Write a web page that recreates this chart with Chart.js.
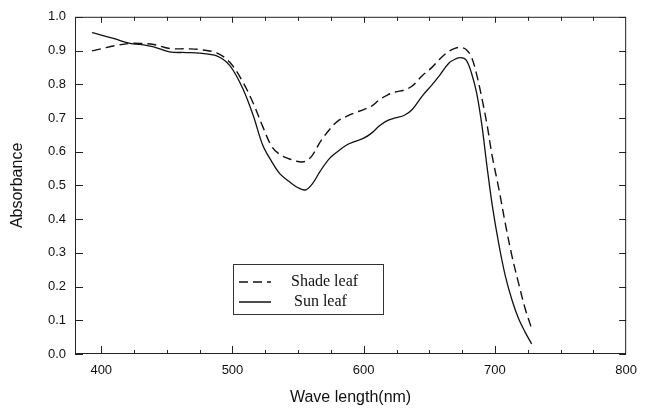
<!DOCTYPE html>
<html>
<head>
<meta charset="utf-8">
<script src="https://cdn.jsdelivr.net/npm/chart.js@4"></script>
<style>
  html, body { margin: 0; padding: 0; background: #fff; }
  #wrap { width: 646px; height: 409px; }
</style>
</head>
<body>
<div id="wrap"><canvas id="absChart" width="646" height="409"></canvas></div>
<script>
// wavelength grid (nm) shared by both curves
const wavelengths = [393, 400, 410, 422, 430, 440, 452, 465, 475, 488, 498, 508, 516, 523, 530, 536, 543, 551, 556, 561,
    567, 574, 580, 587, 593, 600, 606, 612, 618, 624, 631, 637, 645, 652, 658, 665, 670, 674, 678, 682,
    686, 690, 694, 698, 703, 708, 713, 718, 723, 728];
const shadeLeaf = [0.899, 0.905, 0.914, 0.921, 0.921, 0.918, 0.906, 0.905, 0.903, 0.893, 0.865, 0.806, 0.742, 0.675, 0.615, 0.592, 0.579, 0.570, 0.572, 0.590,
    0.630, 0.666, 0.690, 0.705, 0.715, 0.725, 0.735, 0.754, 0.768, 0.777, 0.783, 0.795, 0.827, 0.850, 0.875, 0.898, 0.907, 0.909, 0.903, 0.882,
    0.830, 0.760, 0.680, 0.585, 0.490, 0.385, 0.290, 0.210, 0.135, 0.075];
const sunLeaf = [0.953, 0.946, 0.935, 0.921, 0.918, 0.911, 0.896, 0.894, 0.892, 0.884, 0.855, 0.786, 0.705, 0.620, 0.570, 0.535, 0.512, 0.491, 0.487, 0.505,
    0.543, 0.580, 0.600, 0.620, 0.630, 0.640, 0.655, 0.677, 0.692, 0.700, 0.708, 0.725, 0.767, 0.798, 0.827, 0.863, 0.875, 0.879, 0.872, 0.835,
    0.775, 0.680, 0.555, 0.440, 0.325, 0.230, 0.160, 0.105, 0.065, 0.030];

const xTicks = [400, 500, 600, 700, 800];
const xMinorTicks = [400, 425, 450, 475, 500, 525, 550, 575, 600, 625, 650, 675, 700, 725, 750, 775];
const yTicks = [0, 0.1, 0.2, 0.3, 0.4, 0.5, 0.6, 0.7, 0.8, 0.9, 1.0];

const seriesNames = ["Shade leaf", "Sun leaf"];

function toPoints(xs, ys) {
    return xs.map((x, i) => ({ x: x, y: ys[i] }));
}

// frame + inward tick marks, like the original plot
const frameTicks = {
    id: 'frameTicks',
    afterDatasetsDraw(chart) {
        const ctx = chart.ctx;
        const a = chart.chartArea;
        const xs = chart.scales.x;
        const ys = chart.scales.y;
        ctx.save();
        ctx.strokeStyle = '#222';
        ctx.lineWidth = 1;
        ctx.strokeRect(a.left + 0.5, a.top + 0.5, a.right - a.left - 1, a.bottom - a.top - 1);
        ctx.beginPath();
        xMinorTicks.forEach(v => {
            const px = Math.round(xs.getPixelForValue(v)) + 0.5;
            const major = v % 100 === 0;
            ctx.moveTo(px, a.bottom);
            ctx.lineTo(px, a.bottom - (major ? 8 : 4));
            ctx.moveTo(px, a.top);
            ctx.lineTo(px, a.top + (major ? 6 : 4));
        });
        yTicks.forEach(v => {
            const py = Math.round(ys.getPixelForValue(v)) + 0.5;
            ctx.moveTo(a.left, py);
            ctx.lineTo(a.left + 8, py);
            ctx.moveTo(a.right, py);
            ctx.lineTo(a.right - 7, py);
        });
        ctx.stroke();
        ctx.restore();
    }
};

// boxed legend inside the plot area
const boxLegend = {
    id: 'boxLegend',
    afterDraw(chart) {
        const ctx = chart.ctx;
        const bx = 233, by = 264, bw = 150, bh = 50;
        ctx.save();
        ctx.fillStyle = '#fff';
        ctx.fillRect(bx, by, bw, bh);
        ctx.strokeStyle = '#333';
        ctx.lineWidth = 1;
        ctx.strokeRect(bx + 0.5, by + 0.5, bw, bh);
        ctx.font = '16px "Liberation Serif", "Times New Roman", serif';
        ctx.textBaseline = 'middle';
        ctx.fillStyle = '#111';
        chart.data.datasets.forEach((ds, i) => {
            const y = by + 18 + i * 20;
            ctx.beginPath();
            ctx.setLineDash(ds.borderDash || []);
            ctx.strokeStyle = '#111';
            ctx.lineWidth = 1.5;
            ctx.moveTo(bx + 6, y);
            ctx.lineTo(bx + 38, y);
            ctx.stroke();
            ctx.setLineDash([]);
            ctx.fillText(ds.label, bx + 58 + (i === 1 ? 3 : 0), y);
        });
        ctx.restore();
    }
};

const tickFont = { family: '"Liberation Sans", Arial, sans-serif', size: 13 };
const titleFont = { family: '"Liberation Sans", Arial, sans-serif', size: 16 };

new Chart(document.getElementById('absChart'), {
    type: 'line',
    data: {
        datasets: [
            {
                label: seriesNames[0],
                data: toPoints(wavelengths, shadeLeaf),
                borderColor: '#111',
                borderWidth: 1.4,
                borderDash: [9, 5],
                pointRadius: 0,
                fill: false,
                tension: 0.35
            },
            {
                label: seriesNames[1],
                data: toPoints(wavelengths, sunLeaf),
                borderColor: '#111',
                borderWidth: 1.3,
                pointRadius: 0,
                fill: false,
                tension: 0.35
            }
        ]
    },
    options: {
        responsive: false,
        animation: false,
        devicePixelRatio: 1,
        layout: { padding: { left: 4, right: 19, top: 14, bottom: 0 } },
        plugins: {
            legend: { display: false },
            tooltip: { enabled: false }
        },
        scales: {
            x: {
                type: 'linear',
                min: 380,
                max: 800,
                border: { display: false },
                grid: { display: false, drawTicks: false },
                afterBuildTicks: (scale) => { scale.ticks = xTicks.map(v => ({ value: v })); },
                afterFit: (scale) => { scale.height = 55; },
                ticks: { color: '#111', font: tickFont, padding: 9, maxRotation: 0 },
                title: { display: true, text: 'Wave length(nm)', color: '#111', font: titleFont, padding: { top: 0, bottom: 2 } }
            },
            y: {
                min: 0,
                max: 1,
                border: { display: false },
                grid: { display: false, drawTicks: false },
                afterBuildTicks: (scale) => { scale.ticks = yTicks.map(v => ({ value: v })); },
                afterFit: (scale) => { scale.width = 71; },
                ticks: { color: '#111', font: tickFont, padding: 9, callback: (v) => Number(v).toFixed(1) },
                title: { display: true, text: 'Absorbance', color: '#111', font: titleFont, padding: { top: 4, bottom: 4 } }
            }
        }
    },
    plugins: [frameTicks, boxLegend]
});
</script>
</body>
</html>
